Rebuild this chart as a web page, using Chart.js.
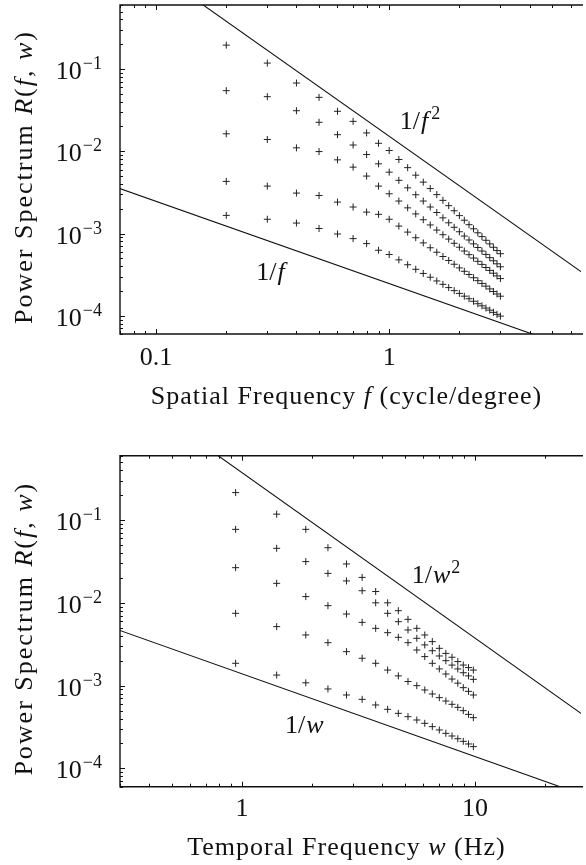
<!DOCTYPE html>
<html>
<head>
<meta charset="utf-8">
<script src="https://cdn.jsdelivr.net/npm/chart.js@4.4.1/dist/chart.umd.min.js"></script>
<style>
  html, body { margin: 0; padding: 0; background: #fff; }
  body { width: 586px; height: 865px; position: relative; overflow: hidden; }
  canvas { position: absolute; left: 0; }
  #spatial { top: 0; }
  #temporal { top: 430px; }
</style>
</head>
<body>
<canvas id="spatial" width="586" height="430"></canvas>
<canvas id="temporal" width="586" height="435"></canvas>
<script>
// Spatial panel (cycle/degree), five rows of measured power
const spatialFreq = [0.2, 0.3, 0.4, 0.5, 0.6, 0.7, 0.8, 0.9, 1.0, 1.1, 1.2, 1.3, 1.4, 1.5,
    1.6, 1.7, 1.8, 1.9, 2.0, 2.1, 2.2, 2.3, 2.4, 2.5, 2.6, 2.7, 2.8, 2.9, 3.0];
const spatialRow1 = [0.195, 0.118, 0.0675, 0.0452, 0.0306, 0.0231, 0.0167, 0.0125, 0.0102,
    0.00794, 0.00632, 0.00512, 0.00421, 0.00352, 0.00297, 0.00253, 0.00218, 0.00189, 0.00165,
    0.00145, 0.00128, 0.00114, 0.00102, 0.000917, 0.000827, 0.000748, 0.00068, 0.00062, 0.000568];
const spatialRow2 = [0.0545, 0.0461, 0.0311, 0.0225, 0.0159, 0.0119, 0.00912, 0.00703, 0.00557,
    0.00443, 0.00359, 0.00296, 0.00248, 0.0021, 0.0018, 0.00155, 0.00135, 0.00119, 0.00105,
    0.000931, 0.000834, 0.000748, 0.000676, 0.000612, 0.000557, 0.000508, 0.000466, 0.000428, 0.000394];
const spatialRow3 = [0.0163, 0.0139, 0.011, 0.00991, 0.00786, 0.00641, 0.00499, 0.00377, 0.00304,
    0.00248, 0.00205, 0.00173, 0.00147, 0.00127, 0.0011, 0.000967, 0.000855, 0.00076, 0.000681,
    0.000612, 0.000553, 0.000503, 0.000459, 0.000421, 0.000386, 0.000356, 0.000329, 0.000305, 0.000283];
const spatialRow4 = [0.0043, 0.00377, 0.0031, 0.0029, 0.00241, 0.0021, 0.00182, 0.00171, 0.00149,
    0.00123, 0.00104, 0.000889, 0.000769, 0.000671, 0.000592, 0.000525, 0.00047, 0.000423, 0.000382,
    0.000347, 0.000317, 0.00029, 0.000267, 0.000247, 0.000229, 0.000212, 0.000197, 0.000184, 0.000173];
const spatialRow5 = [0.00166, 0.00149, 0.00134, 0.00115, 0.000987, 0.000867, 0.000754, 0.000626, 0.000555,
    0.000478, 0.000417, 0.000367, 0.000327, 0.000294, 0.000265, 0.000241, 0.00022, 0.000202, 0.000187,
    0.000173, 0.000161, 0.00015, 0.00014, 0.000132, 0.000124, 0.000117, 0.00011, 0.000104, 0.000099];

// Temporal panel (Hz)
const temporalFreq = [0.94, 1.41, 1.88, 2.34, 2.81, 3.28, 3.75, 4.22, 4.69, 5.16,
    5.63, 6.09, 6.56, 7.03, 7.5, 7.97, 8.44, 8.91, 9.38, 9.84];
const temporalRow1 = [0.215, 0.118, 0.0773, 0.0464, 0.0295, 0.0203, 0.0137, 0.01, 0.00804, 0.00632,
    0.00492, 0.00409, 0.0034, 0.00282, 0.00245, 0.0022, 0.00195, 0.00177, 0.00165, 0.00154];
const temporalRow2 = [0.0773, 0.0456, 0.0315, 0.0227, 0.0184, 0.014, 0.01, 0.00747, 0.00592, 0.0047,
    0.00373, 0.0031, 0.00264, 0.00228, 0.002, 0.00177, 0.00159, 0.00143, 0.00131, 0.00119];
const temporalRow3 = [0.0266, 0.0172, 0.0119, 0.00924, 0.00733, 0.00581, 0.00492, 0.00436, 0.00383, 0.0033,
    0.00269, 0.00224, 0.00186, 0.00159, 0.00138, 0.0012, 0.00107, 0.000944, 0.000852, 0.00077];
const temporalRow4 = [0.00747, 0.00516, 0.00409, 0.0033, 0.00257, 0.00214, 0.00186, 0.00154, 0.00131, 0.00112,
    0.000998, 0.000885, 0.000792, 0.000715, 0.000651, 0.000594, 0.000546, 0.000498, 0.000449, 0.00041];
const temporalRow5 = [0.00186, 0.00134, 0.00108, 0.00091, 0.00077, 0.000682, 0.000583, 0.000517, 0.000462, 0.000421,
    0.000384, 0.00035, 0.000319, 0.000291, 0.000265, 0.000246, 0.000228, 0.000212, 0.000197, 0.000183];

// Reference power laws (two end points each)
const spatialSteepX = [0.1, 8];
const spatialSteepY = [1.52, 0.000238];
const spatialFlatX = [0.05, 8];
const spatialFlatY = [0.00492, 0.0000308];
const temporalSteepX = [0.3, 30];
const temporalSteepY = [4.17, 0.000417];
const temporalFlatX = [0.2, 30];
const temporalFlatY = [0.00695, 0.0000463];

// Axis ranges and tick labels
const powerMin = 6e-5, powerMax = 0.6;
const powerExponents = [-1, -2, -3, -4];
const spatialRange = [0.07, 6.65];
const spatialTickLabels = ['0.1', '1'];
const temporalRange = [0.3, 28.5];
const temporalTickLabels = ['1', '10'];

const SERIF = '"Liberation Serif", "DejaVu Serif", serif';
const INK = '#111';
const BIG = 26, SMALL = 18;

function pairs(xs, ys) {
    return xs.map((x, i) => ({ x: x, y: ys[i] }));
}

// 1..9 x 10^n values inside a range, split into decades and the rest
function logTicks(min, max) {
    const major = [], minor = [];
    for (let e = Math.floor(Math.log10(min)); e <= Math.ceil(Math.log10(max)); e++) {
        for (let m = 1; m <= 9; m++) {
            const v = m * Math.pow(10, e);
            if (v < min * 0.999 || v > max * 1.001) continue;
            (m === 1 ? major : minor).push(v);
        }
    }
    return { major, minor };
}

// draw runs of plain / italic text, centred on x
function richText(ctx, parts, x, y, size) {
    let total = 0;
    parts.forEach(p => {
        ctx.font = (p.it ? 'italic ' : '') + size + 'px ' + SERIF;
        p.w = ctx.measureText(p.t).width;
        total += p.w;
    });
    let cx = x - total / 2;
    parts.forEach(p => {
        ctx.font = (p.it ? 'italic ' : '') + size + 'px ' + SERIF;
        ctx.fillText(p.t, cx, y);
        cx += p.w;
    });
}

const framePlugin = {
    id: 'frame',
    afterDatasetsDraw(chart, args, opts) {
        const ctx = chart.ctx;
        const a = chart.chartArea;
        const xs = chart.scales.x, ys = chart.scales.y;
        ctx.save();
        ctx.strokeStyle = INK;
        ctx.fillStyle = INK;

        // box (right side falls outside the picture)
        ctx.lineWidth = 1.4;
        ctx.beginPath();
        ctx.moveTo(a.right + 2, a.top);
        ctx.lineTo(a.left, a.top);
        ctx.lineTo(a.left, a.bottom);
        ctx.lineTo(a.right + 2, a.bottom);
        ctx.stroke();

        // inward ticks
        ctx.lineWidth = 1;
        const xt = logTicks(xs.min, xs.max);
        const yt = logTicks(ys.min, ys.max);
        ctx.beginPath();
        [[xt.major, 5], [xt.minor, 3]].forEach(([vals, len]) => {
            vals.forEach(v => {
                const px = Math.round(xs.getPixelForValue(v)) + 0.5;
                ctx.moveTo(px, a.bottom); ctx.lineTo(px, a.bottom - len);
                ctx.moveTo(px, a.top); ctx.lineTo(px, a.top + len);
            });
        });
        [[yt.major, 5], [yt.minor, 3]].forEach(([vals, len]) => {
            vals.forEach(v => {
                const py = Math.round(ys.getPixelForValue(v)) + 0.5;
                ctx.moveTo(a.left, py); ctx.lineTo(a.left + len, py);
            });
        });
        ctx.stroke();

        // y tick labels 10^n
        ctx.textBaseline = 'alphabetic';
        ctx.textAlign = 'left';
        powerExponents.forEach(e => {
            const py = ys.getPixelForValue(Math.pow(10, e));
            const sup = '\u2212' + Math.abs(e);
            ctx.font = SMALL + 'px ' + SERIF;
            const wSup = ctx.measureText(sup).width;
            ctx.font = BIG + 'px ' + SERIF;
            const wBase = ctx.measureText('10').width;
            const right = a.left - 18;
            ctx.fillText('10', right - wSup - 1 - wBase, py + 10);
            ctx.font = SMALL + 'px ' + SERIF;
            ctx.fillText(sup, right - wSup, py);
        });

        // x tick labels at decades
        ctx.textAlign = 'center';
        ctx.font = BIG + 'px ' + SERIF;
        opts.xLabels.forEach(t => {
            ctx.fillText(t, xs.getPixelForValue(parseFloat(t)), a.bottom + opts.labelDrop);
        });

        // axis titles, spaced out a little like the TeX face
        ctx.textAlign = 'left';
        ctx.letterSpacing = '1px';
        richText(ctx, opts.xTitle, (a.left + a.right) / 2 - 4, a.bottom + opts.titleDrop, BIG);
        ctx.save();
        ctx.translate(32, (a.top + a.bottom) / 2 + 7.5);
        ctx.rotate(-Math.PI / 2);
        ctx.letterSpacing = '2px';
        richText(ctx, [
            { t: 'Power Spectrum ' }, { t: 'R', it: true }, { t: '(' }, { t: 'f', it: true },
            { t: ', ' }, { t: 'w', it: true }, { t: ')' }
        ], 0, 0, BIG);
        ctx.restore();
        ctx.letterSpacing = '0px';

        // labels next to the reference lines
        opts.lineLabels.forEach(l => {
            let px = xs.getPixelForValue(l.x);
            const py = ys.getPixelForValue(l.y);
            ctx.font = BIG + 'px ' + SERIF;
            ctx.fillText('1/', px, py);
            px += ctx.measureText('1/').width + 1;
            ctx.font = 'italic ' + BIG + 'px ' + SERIF;
            ctx.fillText(l.v, px, py);
            px += ctx.measureText(l.v).width + l.gap;
            if (l.sup) {
                ctx.font = SMALL + 'px ' + SERIF;
                ctx.fillText(l.sup, px, py - 10);
            }
        });
        ctx.restore();
    }
};

function markSet(xs, ys) {
    return {
        data: pairs(xs, ys), showLine: false, pointStyle: 'cross',
        pointRadius: 3.5, pointBorderWidth: 1, borderColor: '#222', pointBorderColor: '#222'
    };
}

function lineSet(xs, ys) {
    return {
        data: pairs(xs, ys), showLine: true, pointRadius: 0,
        borderColor: INK, borderWidth: 1.1
    };
}

function makePanel(id, cfg) {
    return new Chart(document.getElementById(id), {
        type: 'scatter',
        data: {
            datasets: cfg.rows.map(r => markSet(cfg.freq, r)).concat(cfg.lines.map(l => lineSet(l[0], l[1])))
        },
        options: {
            responsive: false,
            animation: false,
            devicePixelRatio: 1,
            layout: { padding: { left: 120, right: 0, top: cfg.padTop, bottom: cfg.padBottom } },
            plugins: {
                legend: { display: false },
                tooltip: { enabled: false },
                frame: cfg.frame
            },
            scales: {
                x: { type: 'logarithmic', min: cfg.range[0], max: cfg.range[1], display: false },
                y: { type: 'logarithmic', min: powerMin, max: powerMax, display: false }
            }
        },
        plugins: [framePlugin]
    });
}

makePanel('spatial', {
    freq: spatialFreq,
    rows: [spatialRow1, spatialRow2, spatialRow3, spatialRow4, spatialRow5],
    lines: [[spatialSteepX, spatialSteepY], [spatialFlatX, spatialFlatY]],
    range: spatialRange,
    padTop: 4, padBottom: 96,
    frame: {
        xLabels: spatialTickLabels,
        labelDrop: 31,
        titleDrop: 70,
        xTitle: [{ t: 'Spatial Frequency ' }, { t: 'f', it: true }, { t: ' (cycle/degree)' }],
        lineLabels: [{ x: 1.11, y: 0.0188, v: 'f', sup: '2', gap: 3 }, { x: 0.269, y: 0.000271, v: 'f', gap: 3 }]
    }
});

makePanel('temporal', {
    freq: temporalFreq,
    rows: [temporalRow1, temporalRow2, temporalRow3, temporalRow4, temporalRow5],
    lines: [[temporalSteepX, temporalSteepY], [temporalFlatX, temporalFlatY]],
    range: temporalRange,
    padTop: 25.7, padBottom: 78.3,
    frame: {
        xLabels: temporalTickLabels,
        labelDrop: 29,
        titleDrop: 68.5,
        xTitle: [{ t: 'Temporal Frequency ' }, { t: 'w', it: true }, { t: ' (Hz)' }],
        lineLabels: [{ x: 5.35, y: 0.0174, v: 'w', sup: '2', gap: 1 }, { x: 1.53, y: 0.000267, v: 'w', gap: 1 }]
    }
});
</script>
</body>
</html>
